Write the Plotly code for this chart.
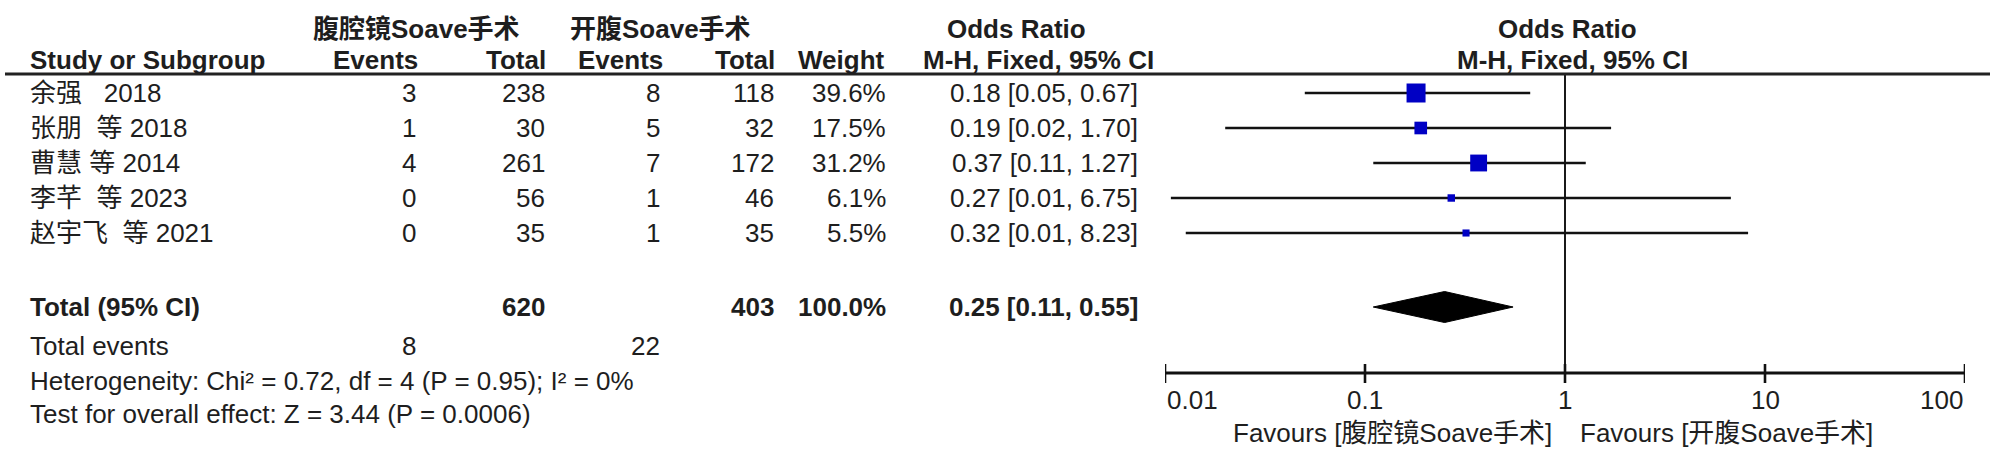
import numpy as np
import plotly.graph_objects as go

# ---------------- data ----------------
studies = ["余强\u00a0\u00a0 2018", "张朋\u00a0\u00a0等 2018", "曹慧 等 2014", "李芊\u00a0\u00a0等 2023", "赵宇飞\u00a0\u00a0等 2021"]
lap_events = [3, 1, 4, 0, 0]
lap_total = [238, 30, 261, 56, 35]
open_events = [8, 5, 7, 1, 1]
open_total = [118, 32, 172, 46, 35]
weights = [39.6, 17.5, 31.2, 6.1, 5.5]
or_est = [0.18, 0.19, 0.37, 0.27, 0.32]
ci_lo = [0.05, 0.02, 0.11, 0.0107, 0.0127]
ci_hi = [0.67, 1.70, 1.27, 6.75, 8.23]

total_lap = 620
total_open = 403
total_weight = 100.0
total_or = 0.25
total_lo = 0.11
total_hi = 0.55
total_events_lap = 8
total_events_open = 22

group1 = "腹腔镜Soave手术"
group2 = "开腹Soave手术"
heterogeneity = "Heterogeneity: Chi² = 0.72, df = 4 (P = 0.95); I² = 0%"
overall = "Test for overall effect: Z = 3.44 (P = 0.0006)"

ticks = [0.01, 0.1, 1, 10, 100]
tick_labels = ["0.01", "0.1", "1", "10", "100"]

# ---------------- layout constants (pixels) ----------------
W, H = 2000, 462
FS = 26
FONT = "Liberation Sans, Arial, Noto Sans CJK SC, sans-serif"
TXT = "#1e1e1e"
BLUE = "#0000c4"
row_y = [93, 128, 163, 198, 233]
y_total = 307
y_tev = 346
y_het = 381
y_test = 414
y_h1 = 29
y_h2 = 60
y_line = 74
y_axis = 373
y_ticklab = 400
y_fav = 433

fig = go.Figure()
ann = []


def txt(xpx, ypx, text, anchor="right", bold=False, size=FS):
    ann.append(dict(xref="paper", x=xpx / W, yref="y", y=ypx, text=(f"<b>{text}</b>" if bold else text),
                    xanchor=anchor, yanchor="middle", showarrow=False,
                    font=dict(family=FONT, size=size, color=TXT)))


# header
txt(416, y_h1, group1, "center", True)
txt(660, y_h1, group2, "center", True)
txt(1017, y_h1, "Odds Ratio", "center", True)
txt(28, y_h2, "Study or Subgroup", "left", True)
txt(420, y_h2, "Events", "right", True)
txt(548, y_h2, "Total", "right", True)
txt(665, y_h2, "Events", "right", True)
txt(777, y_h2, "Total", "right", True)
txt(887, y_h2, "Weight", "right", True)
txt(1038, y_h2, "M-H, Fixed, 95% CI", "center", True)

col_x = [418, 547, 662, 776, 888, 1140]
for i, s in enumerate(studies):
    y = row_y[i]
    txt(28, y, s, "left")
    txt(col_x[0], y, str(lap_events[i]))
    txt(col_x[1], y, str(lap_total[i]))
    txt(col_x[2], y, str(open_events[i]))
    txt(col_x[3], y, str(open_total[i]))
    txt(col_x[4], y, f"{weights[i]:.1f}%")
    txt(col_x[5], y, f"{or_est[i]:.2f} [{ci_lo[i]:.2f}, {ci_hi[i]:.2f}]")

txt(28, y_total, "Total (95% CI)", "left", True)
txt(col_x[1], y_total, str(total_lap), "right", True)
txt(col_x[3], y_total, str(total_open), "right", True)
txt(col_x[4], y_total, f"{total_weight:.1f}%", "right", True)
txt(col_x[5], y_total, f"{total_or:.2f} [{total_lo:.2f}, {total_hi:.2f}]", "right", True)
txt(28, y_tev, "Total events", "left")
txt(col_x[0], y_tev, str(total_events_lap))
txt(col_x[2], y_tev, str(total_events_open))
txt(28, y_het, heterogeneity, "left")
txt(28, y_test, overall, "left")

# right header (centered over the null line)
for yy, t, sh in [(y_h1, "Odds Ratio", 2), (y_h2, "M-H, Fixed, 95% CI", 7)]:
    ann.append(dict(xref="x", x=0, yref="y", y=yy, text=f"<b>{t}</b>", xanchor="center", yanchor="middle",
                    showarrow=False, xshift=sh, font=dict(family=FONT, size=FS, color=TXT)))

# tick labels
for i, (t, lab) in enumerate(zip(ticks, tick_labels)):
    anc = "left" if i == 0 else ("right" if i == len(ticks) - 1 else "center")
    ann.append(dict(xref="x", x=float(np.log10(t)), yref="y", y=y_ticklab, text=lab, xanchor=anc,
                    yanchor="middle", showarrow=False, font=dict(family=FONT, size=FS, color=TXT)))

# favours labels
ann.append(dict(xref="x", x=0, yref="y", y=y_fav, text=f"Favours [{group1}]", xanchor="right",
                yanchor="middle", showarrow=False, xshift=-11, font=dict(family=FONT, size=FS, color=TXT)))
ann.append(dict(xref="x", x=0, yref="y", y=y_fav, text=f"Favours [{group2}]", xanchor="left",
                yanchor="middle", showarrow=False, xshift=13, font=dict(family=FONT, size=FS, color=TXT)))

# null line
fig.add_trace(go.Scatter(x=[1, 1], y=[y_line, y_axis], mode="lines",
                         line=dict(color="black", width=1.8), hoverinfo="skip", showlegend=False))

# CI lines
for i in range(len(studies)):
    fig.add_trace(go.Scatter(x=[ci_lo[i], ci_hi[i]], y=[row_y[i], row_y[i]], mode="lines",
                             line=dict(color="#111111", width=2.7), hoverinfo="skip", showlegend=False))

# squares (area proportional to weight)
wmax = max(weights)
sizes = [19 * np.sqrt(w / wmax) for w in weights]
fig.add_trace(go.Scatter(x=or_est, y=row_y, mode="markers",
                         marker=dict(symbol="square", size=sizes, color=BLUE, opacity=1, line=dict(width=0)),
                         showlegend=False))

# diamond
dh = 15.5
fig.add_trace(go.Scatter(x=[total_lo, total_or, total_hi, total_or, total_lo],
                         y=[y_total, y_total - dh, y_total, y_total + dh, y_total],
                         mode="lines", fill="toself", fillcolor="black",
                         line=dict(color="black", width=1), showlegend=False))

# axis line and ticks
fig.add_trace(go.Scatter(x=[ticks[0], ticks[-1]], y=[y_axis, y_axis], mode="lines",
                         line=dict(color="#111111", width=3), showlegend=False))
tx, ty = [], []
for t in ticks:
    tx += [t, t, None]
    ty += [y_axis - 9, y_axis + 10, None]
fig.add_trace(go.Scatter(x=tx, y=ty, mode="lines", line=dict(color="#111111", width=2.6), showlegend=False))

# header underline
shapes = [dict(type="line", xref="paper", x0=5 / W, x1=1990 / W, yref="y", y0=y_line, y1=y_line,
               line=dict(color="#222222", width=3))]

fig.update_layout(
    width=W, height=H,
    margin=dict(l=0, r=0, t=0, b=0),
    paper_bgcolor="white", plot_bgcolor="rgba(0,0,0,0)",
    xaxis=dict(type="log", range=[-2, 2], domain=[1165 / W, 1965 / W], visible=False),
    yaxis=dict(range=[H, 0], domain=[0, 1], visible=False),
    annotations=ann, shapes=shapes,
    showlegend=False,
)

fig.write_html("out.html", config={"displayModeBar": False},
               post_script="document.body.style.margin='0';document.body.style.overflow='hidden';")
